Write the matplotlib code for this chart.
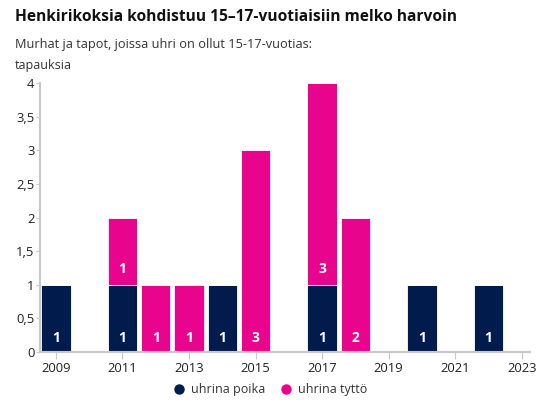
import matplotlib.pyplot as plt
from matplotlib.lines import Line2D

# data
years = [2009, 2011, 2012, 2013, 2014, 2015, 2017, 2018, 2020, 2022]
boys = [1, 1, 0, 0, 1, 0, 1, 0, 1, 1]
girls = [0, 1, 1, 1, 0, 3, 3, 2, 0, 0]
xticks = [2009, 2011, 2013, 2015, 2017, 2019, 2021, 2023]
yticks = [0, 0.5, 1, 1.5, 2, 2.5, 3, 3.5, 4]
ytick_labels = ['0', '0,5', '1', '1,5', '2', '2,5', '3', '3,5', '4']

navy = '#021b4d'
pink = '#e8048c'
grey = '#c8c8c8'
txt = '#222222'

plt.rcParams['font.family'] = ['Open Sans', 'DejaVu Sans']

fig = plt.figure(figsize=(5.5, 4.01), dpi=100)
ax = fig.add_axes([0.0727, 0.1222, 0.8909, 0.6708])

w = 0.88
ax.bar(years, boys, width=w, color=navy, edgecolor='white', linewidth=0.6)
ax.bar(years, girls, width=w, bottom=boys, color=pink, edgecolor='white', linewidth=0.6)

# value labels near the base of each segment
for x, b, g in zip(years, boys, girls):
    if b:
        ax.annotate(str(b), (x, 0), xytext=(0, 10), textcoords='offset points',
                    ha='center', va='center', color='white', fontsize=10, fontweight='bold')
    if g:
        ax.annotate(str(g), (x, b), xytext=(0, 10 if b == 0 else 11), textcoords='offset points',
                    ha='center', va='center', color='white', fontsize=10, fontweight='bold')

ax.set_xlim(2008.52, 2023.25)
ax.set_ylim(0, 4)
ax.set_xticks(xticks)
ax.set_xticklabels([str(t) for t in xticks])
ax.set_yticks(yticks)
ax.set_yticklabels(ytick_labels)
ax.tick_params(axis='both', colors=grey, labelcolor=txt, labelsize=9.4)
ax.tick_params(axis='y', length=3, pad=1)
ax.tick_params(axis='x', length=5, pad=2)

for s in ['top', 'right']:
    ax.spines[s].set_visible(False)
ax.spines['left'].set_color(grey)
ax.spines['bottom'].set_color(grey)
ax.spines['left'].set_linewidth(1.5)
ax.spines['bottom'].set_linewidth(1.5)

fig.text(0.027, 0.957, 'Henkirikoksia kohdistuu 15\u201317-vuotiaisiin melko harvoin',
         fontsize=11.2, fontweight='bold', color='#111111', va='center')
fig.text(0.027, 0.89, 'Murhat ja tapot, joissa uhri on ollut 15-17-vuotias:',
         fontsize=9.2, color='#333333', va='center')
fig.text(0.027, 0.836, 'tapauksia', fontsize=9, color='#333333', va='center')

handles = [Line2D([], [], marker='o', linestyle='', color=navy, markersize=6.5),
           Line2D([], [], marker='o', linestyle='', color=pink, markersize=6.5)]
fig.legend(handles, ['uhrina poika', 'uhrina tyttö'], loc='center', bbox_to_anchor=(0.485, 0.028),
           ncol=2, frameon=False, fontsize=9, handletextpad=0.0, columnspacing=0.6,
           labelcolor='#333333')

fig.savefig('out.png', dpi=100)
